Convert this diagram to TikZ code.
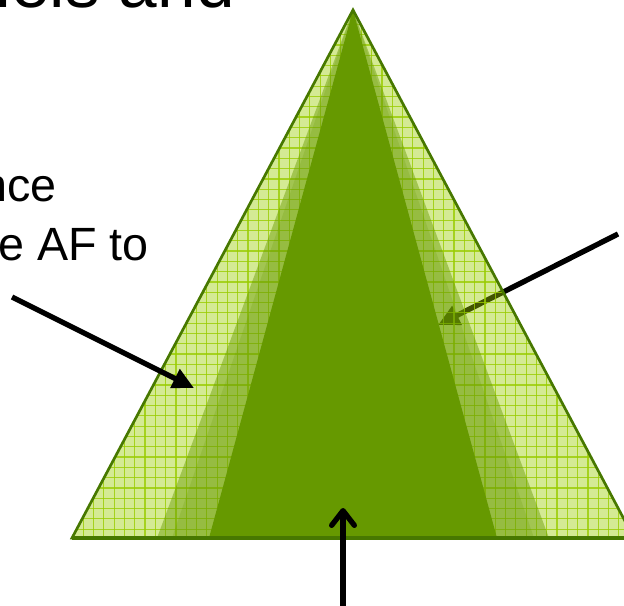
\documentclass[tikz,border=0pt]{standalone}
\usepackage{fontspec}
\setmainfont{Liberation Sans}
\usetikzlibrary{arrows.meta}
\definecolor{lightg}{HTML}{99CC00}
\definecolor{midg}{HTML}{669900}
\definecolor{edgeg}{HTML}{477800}
\begin{document}
\begin{tikzpicture}[x=0.75pt,y=-0.75pt,
  lbl/.style={inner sep=0pt, text=black, font=\fontsize{35}{40}\selectfont},
  toplbl/.style={inner sep=0pt, text=black, font=\fontsize{52}{60}\selectfont},
  arr/.style={line width=4pt, black, -{Triangle[length=16pt,width=15pt]}},
  uparr/.style={line width=4pt, black, -{Straight Barb[round,length=11pt,width=17pt]}},
  gridline/.style={lightg, line width=0.9pt, opacity=0.8},
  outerfill/.style={fill=lightg, fill opacity=0.42},
  bandA/.style={fill=midg, fill opacity=0.45},
  bandB/.style={fill=midg, fill opacity=0.2},
  core/.style={fill=midg},
  rim/.style={draw=edgeg, line width=2pt, line join=miter}]
\useasboundingbox (0,0) rectangle (624,606);
\clip (0,0) rectangle (624,606);
% key points
\coordinate (apex) at (353,10);
\coordinate (bl) at (72,538);
\coordinate (br) at (634,538);
\coordinate (m1l) at (157,538); \coordinate (m1r) at (549,538);
\coordinate (m2l) at (172,538); \coordinate (m2r) at (534,538);
\coordinate (il) at (209,538);  \coordinate (ir) at (497,538);
% right arrow (behind the triangle)
\coordinate (rs) at (618,234);
\coordinate (rt) at (438,325);
\draw[arr] (rs) -- (rt);
% outer light triangle with grid
\path[outerfill] (apex) -- (bl) -- (br) -- cycle;
\begin{scope}
  \clip (apex) -- (bl) -- (br) -- cycle;
  \foreach \i in {-7,...,49} \draw[gridline] ({134.7+10.3*\i},0) -- ++(0,560);
  \foreach \i in {-43,...,9} \draw[gridline] (60,{446.7+10.3*\i}) -- ++(600,0);
\end{scope}
% middle bands
\path[bandA] (apex) -- (m1l) -- (m1r) -- cycle;
\path[bandB] (apex) -- (m2l) -- (m2r) -- cycle;
% inner solid triangle
\path[core] (apex) -- (il) -- (ir) -- cycle;
% outline
\path[rim] (apex) -- (bl) -- (br) -- cycle;
\draw[edgeg, line width=2.6pt] (bl) -- (br);
% left arrow
\coordinate (ls) at (12,297);
\coordinate (lt) at (194,388);
\draw[arr] (ls) -- (lt);
% bottom arrow
\coordinate (bs) at (343,625);
\coordinate (bt) at (343,508);
\draw[uparr] (bs) -- (bt);
% texts
\node[toplbl, anchor=base east] (t0) at (235,8) {nels and};
\node[lbl, anchor=base east] (t1) at (57,201.7) {nce};
\node[lbl, anchor=base west] (t2) at (-2,260) {e AF to};
\end{tikzpicture}
\end{document}
